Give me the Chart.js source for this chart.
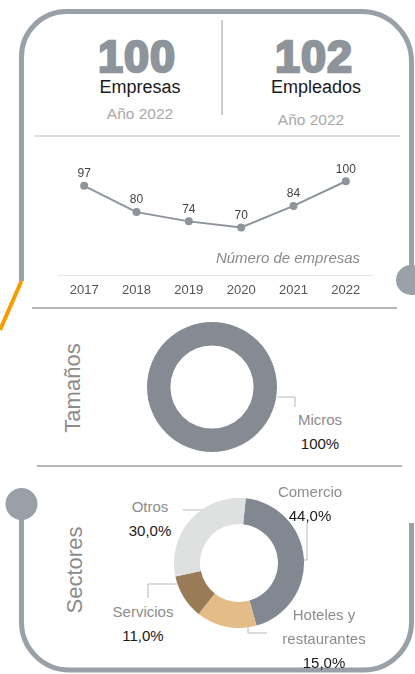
<!DOCTYPE html>
<html>
<head>
<meta charset="utf-8">
<script src="https://cdn.jsdelivr.net/npm/chart.js@4.4.0/dist/chart.umd.min.js"></script>
<style>
html, body { margin: 0; padding: 0; background: #fff; }
#wrap { position: relative; width: 415px; height: 674px; overflow: hidden; font-family: "Liberation Sans", Arial, sans-serif; }
#frame { position: absolute; left: 0; top: 0; }
.t { position: absolute; white-space: nowrap; text-align: center; transform: translateX(-50%); }
.big { font-weight: bold; font-size: 45px; line-height: 45px; color: #8e949b; -webkit-text-stroke: 2.5px #8e949b; letter-spacing: 1px; }
.rot { position: absolute; font-size: 22px; color: #8c8c8c; white-space: nowrap; transform: translate(-50%, -50%) rotate(-90deg); }
.lbl { font-size: 15px; line-height: 24px; }
.lbl .n { color: #8c8c8c; }
.lbl .v { color: #1a1a1a; }
canvas { position: absolute; }
</style>
</head>
<body>
<div id="wrap">
  <svg id="frame" width="415" height="674">
    <g fill="none" stroke="#9aa0a7" stroke-width="5">
      <path d="M21.5 281 L21.5 56.5 A45 45 0 0 1 66.5 11.5 L361.5 11.5 A50 50 0 0 1 411.5 61.5 L411.5 280" />
      <path d="M411.5 523 L411.5 622 A48 48 0 0 1 363.5 670 L69.5 670 A48 48 0 0 1 21.5 622 L21.5 504" />
    </g>
    <line x1="21.5" y1="281" x2="0" y2="330" stroke="#f59c00" stroke-width="4" />
    <circle cx="411" cy="280" r="15" fill="#9aa0a7" />
    <circle cx="21.5" cy="504" r="16" fill="#9aa0a7" />
    <line x1="222" y1="20" x2="222" y2="115" stroke="#bdbdbd" stroke-width="1.5" />
    <line x1="35" y1="136" x2="400" y2="136" stroke="#cfcfcf" stroke-width="1.5" />
    <line x1="32" y1="308" x2="397" y2="308" stroke="#9aa0a7" stroke-width="1.5" />
    <line x1="37" y1="466" x2="402" y2="466" stroke="#9aa0a7" stroke-width="1.5" />
    <g fill="none" stroke="#b8b8b8" stroke-width="1">
      <polyline points="277,397 295,397 295,407" />
      <polyline points="307,523 307,560 302,560" />
      <polyline points="183,510 204,510 204,513" />
      <polyline points="148,598 148,584 177,584" />
      <polyline points="248,627 248,633 267,633" />
    </g>
  </svg>

  <canvas id="lineChart" width="324" height="155" style="left:53px;top:150px"></canvas>
  <canvas id="sizeChart" width="130" height="130" style="left:147px;top:322px"></canvas>
  <canvas id="sectorChart" width="130" height="130" style="left:174px;top:498px"></canvas>
</div>

<script>
// datos
var anio = '2022';
var totalEmpresas = 100;
var totalEmpleados = 102;

var years = ['2017', '2018', '2019', '2020', '2021', '2022'];
var empresas = [97, 80, 74, 70, 84, 100];

var tamanoLabels = ['Micros'];
var tamanoValues = [100];

var sectorLabels = ['Comercio', 'Hoteles y restaurantes', 'Servicios', 'Otros'];
var sectorValues = [44.0, 15.0, 11.0, 30.0];
var sectorColors = ['#818891', '#e4bc88', '#9a7b57', '#dfe1e1'];

Chart.defaults.font.family = '"Liberation Sans", Arial, sans-serif';

var wrap = document.getElementById('wrap');

function place(html, cls, cx, top, extra) {
    var d = document.createElement('div');
    d.className = cls;
    d.innerHTML = html;
    d.style.left = cx + 'px';
    d.style.top = top + 'px';
    if (extra) d.style.cssText += extra;
    wrap.appendChild(d);
    return d;
}

// cabecera
place(totalEmpresas, 't big', 137, 34);
place(totalEmpleados, 't big', 314, 34);
place('Empresas', 't', 140, 76, 'font-size:18px;line-height:22px;color:#1a1a1a;');
place('Empleados', 't', 316, 76, 'font-size:18px;line-height:22px;color:#1a1a1a;');
place('Año ' + anio, 't', 140, 104, 'font-size:15.5px;line-height:20px;color:#a8a8a8;');
place('Año ' + anio, 't', 311, 110, 'font-size:15.5px;line-height:20px;color:#a8a8a8;');
place('Número de empresas', 't', 288, 249, 'font-size:15px;line-height:18px;color:#8a8a8a;font-style:italic;');

// titulos verticales
place('Tamaños', 'rot', 73, 388);
place('Sectores', 'rot', 75, 570);

function pct(v, dec) {
    return v.toFixed(dec).replace('.', ',') + '%';
}

// etiquetas donas (centro x, centro primera linea y)
var tamanoPos = [[320, 420]];
tamanoLabels.forEach(function(l, i) {
    place('<div class="n">' + l + '</div><div class="v">' + pct(tamanoValues[i], 0) + '</div>',
        't lbl', tamanoPos[i][0], tamanoPos[i][1] - 12);
});

var sectorPos = [[310, 492], [324, 615], [143, 612], [150, 507]];
sectorLabels.forEach(function(l, i) {
    var d = place('<div class="n">' + l + '</div><div class="v">' + pct(sectorValues[i], 1) + '</div>',
        't lbl', sectorPos[i][0], sectorPos[i][1] - 12);
    if (l.length > 12) {
        d.style.whiteSpace = 'normal';
        d.style.width = '95px';
    }
});

// etiquetas de valores sobre los puntos
var valueLabels = {
    id: 'valueLabels',
    afterDatasetsDraw: function(chart) {
        var ctx = chart.ctx;
        var meta = chart.getDatasetMeta(0);
        ctx.save();
        ctx.font = '12px "Liberation Sans"';
        ctx.fillStyle = '#444';
        ctx.textAlign = 'center';
        ctx.textBaseline = 'middle';
        meta.data.forEach(function(pt, i) {
            ctx.fillText(chart.data.datasets[0].data[i], pt.x, pt.y - 12);
        });
        ctx.restore();
    }
};

new Chart(document.getElementById('lineChart'), {
    type: 'line',
    data: {
        labels: years,
        datasets: [{
            data: empresas,
            borderColor: '#8e949b',
            backgroundColor: '#8e949b',
            borderWidth: 2,
            pointRadius: 3,
            pointHoverRadius: 3,
            tension: 0
        }]
    },
    options: {
        responsive: false,
        animation: false,
        layout: { padding: 0 },
        plugins: { legend: { display: false }, tooltip: { enabled: false } },
        scales: {
            x: {
                offset: true,
                grid: { display: false, drawTicks: false },
                border: { display: true, color: '#e6e6e6', width: 1 },
                ticks: { color: '#555', font: { size: 13 }, padding: 7 }
            },
            y: { display: false, min: 39, max: 117 }
        }
    },
    plugins: [valueLabels]
});

new Chart(document.getElementById('sizeChart'), {
    type: 'doughnut',
    data: {
        labels: tamanoLabels,
        datasets: [{ data: tamanoValues, backgroundColor: ['#868b93'], borderWidth: 0 }]
    },
    options: {
        responsive: false,
        animation: false,
        cutout: '64%',
        plugins: { legend: { display: false }, tooltip: { enabled: false } }
    }
});

new Chart(document.getElementById('sectorChart'), {
    type: 'doughnut',
    data: {
        labels: sectorLabels,
        datasets: [{ data: sectorValues, backgroundColor: sectorColors, borderWidth: 0 }]
    },
    options: {
        responsive: false,
        animation: false,
        cutout: '60%',
        rotation: 6,
        plugins: { legend: { display: false }, tooltip: { enabled: false } }
    }
});
</script>
</body>
</html>
